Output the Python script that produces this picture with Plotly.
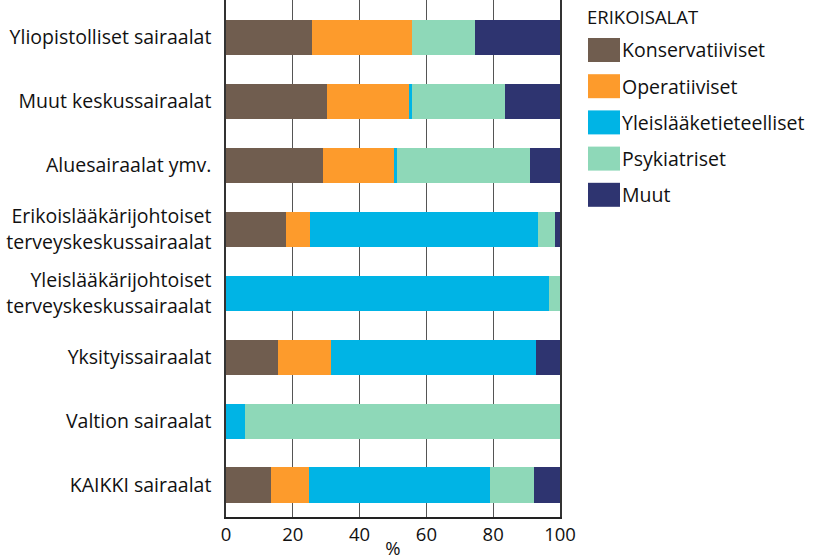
import plotly.graph_objects as go

# Hospital categories (top to bottom)
hospitals = [
    "Yliopistolliset sairaalat",
    "Muut keskussairaalat",
    "Aluesairaalat ymv.",
    "Erikoislääkärijohtoiset<br>terveyskeskussairaalat",
    "Yleislääkärijohtoiset<br>terveyskeskussairaalat",
    "Yksityissairaalat",
    "Valtion sairaalat",
    "KAIKKI sairaalat",
]

# Share of each specialty (%)
konservatiiviset = [25.6, 30.1, 29.1, 17.9, 0.0, 15.5, 0.0, 13.4]
operatiiviset = [30.0, 24.8, 21.2, 7.1, 0.0, 15.9, 0.0, 11.5]
yleislaaketieteelliset = [0.0, 0.7, 0.8, 68.5, 96.8, 61.4, 5.8, 54.2]
psykiatriset = [18.9, 27.9, 40.0, 5.1, 3.2, 0.0, 94.2, 13.2]
muut = [25.5, 16.5, 8.9, 1.4, 0.0, 7.2, 0.0, 7.7]

series_names = ["Konservatiiviset", "Operatiiviset", "Yleislääketieteelliset",
                "Psykiatriset", "Muut"]
series_values = [konservatiiviset, operatiiviset, yleislaaketieteelliset,
                 psykiatriset, muut]
colors = ["#705d4f", "#fd9b2c", "#00b4e5", "#8ed8b8", "#2e3470"]

x_ticks = [0, 20, 40, 60, 80, 100]

FONT = "Open Sans"
W, H = 815, 560
ML, MR, MT, MB = 226, 255, 0, 43

fig = go.Figure()
for name, vals, col in zip(series_names, series_values, colors):
    fig.add_trace(go.Bar(
        y=hospitals, x=vals, name=name, orientation="h",
        marker=dict(color=col, line=dict(width=0)),
        showlegend=False,
    ))

# Legend drawn as swatches + labels to the right of the plot
plot_w = W - ML - MR


def px_to_paper_x(px):
    return (px - ML) / plot_w


def px_to_paper_y(py):
    return 1 - (py - MT) / (H - MT - MB)


shapes = []
annotations = []
annotations.append(dict(
    text="ERIKOISALAT", xref="paper", yref="paper",
    x=px_to_paper_x(585), y=px_to_paper_y(17),
    xanchor="left", yanchor="middle", showarrow=False,
    font=dict(family=FONT, size=18.5, color="#111"),
))
for i, (name, col) in enumerate(zip(series_names, colors)):
    cy = 50 + i * 36.2
    shapes.append(dict(
        type="rect", xref="paper", yref="paper",
        x0=px_to_paper_x(588), x1=px_to_paper_x(620),
        y0=px_to_paper_y(cy - 12), y1=px_to_paper_y(cy + 12),
        fillcolor=col, line=dict(width=0),
    ))
    annotations.append(dict(
        text=name, xref="paper", yref="paper",
        x=px_to_paper_x(620), y=px_to_paper_y(cy),
        xanchor="left", yanchor="middle", showarrow=False,
        font=dict(family=FONT, size=19.5, color="#111"),
    ))

fig.update_layout(
    width=W, height=H,
    margin=dict(l=ML, r=MR, t=MT, b=MB),
    barmode="stack",
    bargap=0.45,
    plot_bgcolor="white",
    paper_bgcolor="white",
    font=dict(family=FONT, size=19, color="#111"),
    shapes=shapes,
    annotations=annotations,
    xaxis=dict(
        range=[0, 100], tickvals=x_ticks,
        ticktext=[str(t) for t in x_ticks],
        showgrid=True, gridcolor="#555", gridwidth=1,
        showline=True, linecolor="#222", linewidth=1.5,
        ticks="", zeroline=False,
        tickfont=dict(family=FONT, size=18.5, color="#111"),
        title=dict(text="%", font=dict(family=FONT, size=18.5, color="#111"),
                   standoff=0),
    ),
    yaxis=dict(
        categoryorder="array", categoryarray=hospitals,
        range=[7.5, -0.586],
        showgrid=False, showline=True, mirror=True,
        linecolor="#333", linewidth=1.5, ticks="",
        ticklabelstandoff=9,
        tickfont=dict(family=FONT, size=19.5, color="#111"),
    ),
)

fig.write_html("out.html")
